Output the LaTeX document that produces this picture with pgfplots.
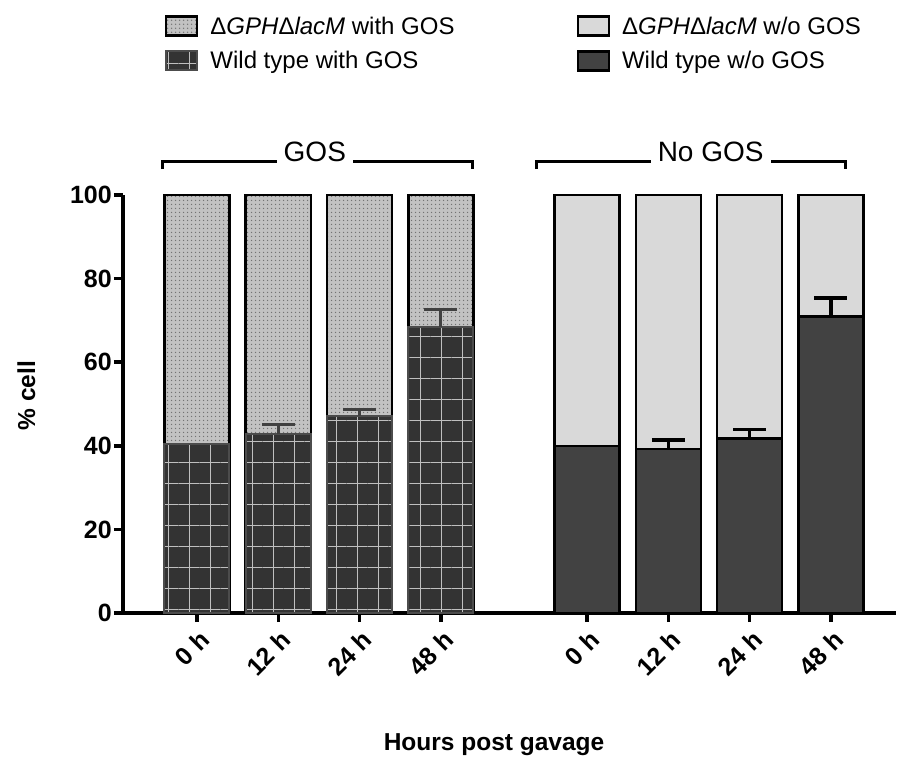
\documentclass[border=0pt]{standalone}
\usepackage{fontspec}
\setmainfont{Liberation Sans}
\usepackage{pgfplots}
\pgfplotsset{compat=1.18}
\usetikzlibrary{patterns.meta,calc}
\definecolor{mutgos}{gray}{0.76}
\definecolor{mutno}{gray}{0.85}
\definecolor{wtgos}{gray}{0.20}
\definecolor{wtno}{gray}{0.26}
\pgfplotsset{
  mylegend/.style={legend image code/.code={\draw[##1] (0pt,-9.5pt) rectangle (31pt,9.5pt);}},
}
\begin{document}
\begin{tikzpicture}
\begin{axis}[
  scale only axis, width=773pt, height=418pt,
  xmin=-0.91, xmax=8.6, ymin=0, ymax=100,
  axis lines*=left,
  axis line style={line width=3.5pt},
  clip=false,
  xtick={0,1,2,3,4.8,5.8,6.8,7.8},
  xticklabels={0 h,12 h,24 h,48 h,0 h,12 h,24 h,48 h},
  ytick={0,20,40,60,80,100},
  tick align=outside, major tick length=9pt,
  major tick style={line width=3.5pt, black},
  /pgf/number format/assume math mode=true,
  ticklabel style={font=\fontsize{25}{30}\selectfont\bfseries},
  xticklabel style={rotate=45, anchor=north east, inner sep=1pt, xshift=-3pt, yshift=-5pt},
  yticklabel style={inner sep=2pt},
  xlabel={Hours post gavage},
  ylabel={\% cell},
  label style={font=\fontsize{24.5}{29}\selectfont\bfseries},
  xlabel style={at={(axis description cs:0.48,-0.316)}, anchor=center},
  ylabel style={at={(axis description cs:-0.125,0.52)}, anchor=center},
  legend columns=2,
  legend cell align=left,
  legend style={at={(axis description cs:0.054,1.432)}, anchor=north west,
    draw=none, fill=none, inner sep=0pt, row sep=12pt,
    font=\fontsize{24}{28}\selectfont,
    /tikz/every odd column/.style={column sep=10pt},
    /tikz/column 2/.style={column sep=120pt}},
]
% mutant (top of stack at 100)
\addplot[ybar, bar width=0.8, bar shift=0pt, draw=black, line width=2.5pt,
  preaction={fill=mutgos},
  preaction={pattern={Dots[distance=4pt,radius=0.9pt]}, pattern color=black!55},
  mylegend]
  coordinates {(0,100) (1,100) (2,100) (3,100)};
\addlegendentry{{\upshape Δ}\textit{GPH}Δ\textit{lacM} with GOS}
\addplot[ybar, bar width=0.8, bar shift=0pt, draw=black, line width=2.5pt,
  fill=mutno, mylegend]
  coordinates {(4.8,100) (5.8,100) (6.8,100) (7.8,100)};
\addlegendentry{Δ\textit{GPH}Δ\textit{lacM} w/o GOS}
% wild type
\addplot[ybar, bar width=0.8, bar shift=0pt, draw=black!70, line width=2pt,
  preaction={fill=wtgos},
  preaction={pattern={Hatch[angle=0,distance=21pt,line width=0.9pt]}, pattern color=black!25},
  mylegend]
  coordinates {(0,40.4) (1,42.8) (2,47.2) (3,68.4)};
\addlegendentry{Wild type with GOS}
\addplot[ybar, bar width=0.8, bar shift=0pt, draw=black, line width=2.5pt,
  fill=wtno, mylegend]
  coordinates {(4.8,40.0) (5.8,39.2) (6.8,41.7) (7.8,70.9)};
\addlegendentry{Wild type w/o GOS}
% error bars
\addplot[draw=none, mark=none, forget plot,
  error bars/.cd, y dir=plus, y explicit,
  error bar style={draw=black!75, line width=3pt},
  error mark options={rotate=90, mark size=16.5pt, line width=3pt, draw=black!75}]
  coordinates {(1,42.8) +- (0,2.4) (2,47.2) +- (0,1.4) (3,68.4) +- (0,4.3)};
\addplot[draw=none, mark=none, forget plot,
  error bars/.cd, y dir=plus, y explicit,
  error bar style={draw=black, line width=3.5pt},
  error mark options={rotate=90, mark size=16.5pt, line width=3.5pt, draw=black}]
  coordinates {(5.8,39.2) +- (0,2.2) (6.8,41.7) +- (0,2.2) (7.8,70.9) +- (0,4.4)};
% brackets
\draw[line width=3pt] (axis cs:-0.43,106.2) -- (axis cs:-0.43,108.1) -- (axis cs:3.39,108.1) -- (axis cs:3.39,106.2);
\node[fill=white, inner xsep=7pt, inner ysep=3pt, anchor=base, font=\fontsize{28}{32}\selectfont] at (axis cs:1.45,108.1) {GOS};
\draw[line width=3pt] (axis cs:4.18,106.2) -- (axis cs:4.18,108.1) -- (axis cs:7.98,108.1) -- (axis cs:7.98,106.2);
\node[fill=white, inner xsep=7pt, inner ysep=3pt, anchor=base, font=\fontsize{28}{32}\selectfont] at (axis cs:6.32,108.1) {No GOS};
\end{axis}
\pgfresetboundingbox
\path[use as bounding box] ($(current axis.south west)+(-123pt,-143pt)$) rectangle ($(current axis.south west)+(775pt,613pt)$);
\end{tikzpicture}
\end{document}
